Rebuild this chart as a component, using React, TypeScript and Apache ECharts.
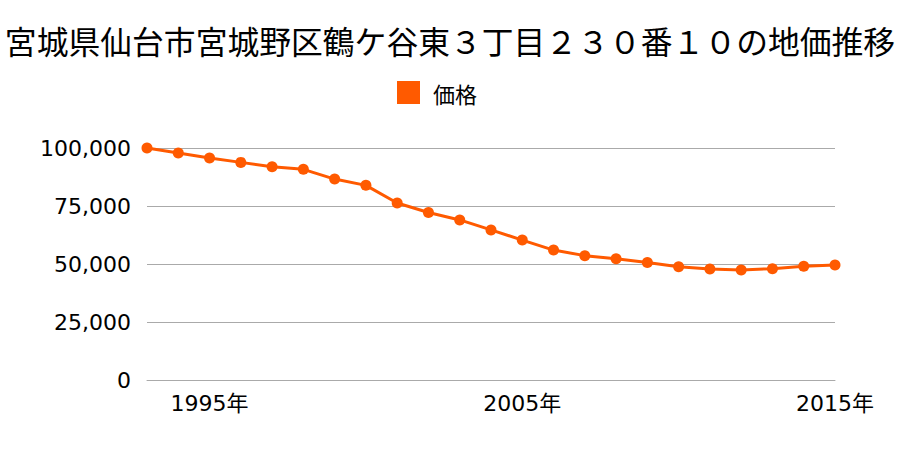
import React, { useEffect, useRef } from "react";
import * as echarts from "echarts";

const years: string[] = [
  "1993", "1994", "1995", "1996", "1997", "1998", "1999", "2000", "2001", "2002",
  "2003", "2004", "2005", "2006", "2007", "2008", "2009", "2010", "2011", "2012",
  "2013", "2014", "2015",
];
const prices: number[] = [
  100000, 97800, 95700, 93800, 91900, 90800, 86600, 83900, 76300, 72200,
  69000, 64700, 60300, 56000, 53600, 52300, 50600, 48800, 47800, 47400,
  48000, 49000, 49600,
];
const labeledYears: string[] = ["1995", "2005", "2015"];
const titleText = "宮城県仙台市宮城野区鶴ケ谷東３丁目２３０番１０の地価推移";
const seriesName = "価格";

const FONT = "'Noto Sans CJK JP', 'Noto Sans', sans-serif";
const NUMFONT = "'DejaVu Sans', 'Noto Sans CJK JP', sans-serif";

export default function App() {
  const ref = useRef<HTMLDivElement>(null);
  useEffect(() => {
    if (!ref.current) return;
    const chart = echarts.init(ref.current, null, { renderer: "svg" });
    chart.setOption({
      animation: false,
      textStyle: { fontFamily: FONT },
      title: {
        text: titleText,
        left: "center",
        top: 20,
        padding: 0,
        textStyle: { fontSize: 31.8, fontWeight: "normal", color: "#000", fontFamily: FONT, lineHeight: 40 },
      },
      legend: {
        data: [seriesName],
        top: 81,
        left: 397,
        padding: 0,
        icon: "rect",
        itemWidth: 23,
        itemHeight: 23,
        itemGap: 10,
        textStyle: { fontSize: 22, color: "#000", fontFamily: FONT, padding: [0, 0, 0, 8] },
      },
      grid: { left: 147, right: 65, top: 148, bottom: 70 },
      xAxis: {
        type: "category",
        data: years,
        boundaryGap: false,
        axisLine: { show: true, lineStyle: { color: "#aaa", width: 1 } },
        axisTick: { show: false },
        splitLine: { show: false },
        axisLabel: {
          interval: (_i: number, v: string) => labeledYears.includes(v),
          formatter: (v: string) => v + "年",
          fontSize: 22,
          color: "#000",
          margin: 12,
          fontFamily: NUMFONT,
        },
      },
      yAxis: {
        type: "value",
        min: 0,
        max: 100000,
        interval: 25000,
        axisLine: { show: false },
        axisTick: { show: false },
        splitLine: { lineStyle: { color: "#aaa", width: 1 } },
        axisLabel: {
          fontSize: 22,
          color: "#000",
          margin: 16,
          fontFamily: NUMFONT,
          formatter: (v: number) => v.toLocaleString("en-US"),
        },
      },
      series: [
        {
          name: seriesName,
          type: "line",
          data: prices,
          color: "#ff5a00",
          symbol: "circle",
          symbolSize: 11,
          lineStyle: { width: 3, color: "#ff5a00" },
          itemStyle: { color: "#ff5a00" },
        },
      ],
    });
    return () => chart.dispose();
  }, []);
  return <div ref={ref} style={{ width: 900, height: 450, position: "absolute", left: 0, top: 0 }} />;
}
